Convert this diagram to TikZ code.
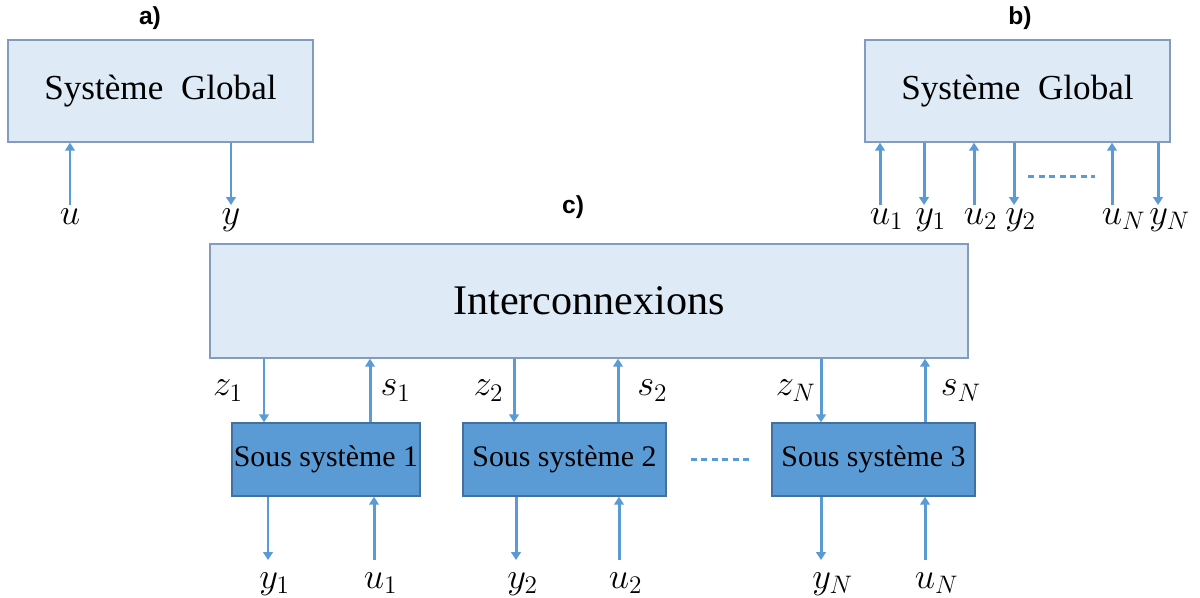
\documentclass[tikz,border=0pt]{standalone}
\usepackage{fontspec}
\setmainfont{Liberation Serif}
\setsansfont{Liberation Sans}
\usetikzlibrary{arrows.meta,positioning}
\definecolor{boxfill}{RGB}{222,235,247}
\definecolor{boxline}{RGB}{130,155,190}
\definecolor{subfill}{RGB}{91,155,213}
\definecolor{subline}{RGB}{65,113,156}
\definecolor{sigblue}{RGB}{91,155,213}
\newcommand{\pvar}[2]{$\phantom{_{#2}}#1_{#2}$}

\begin{document}
\begin{tikzpicture}[
  sysbox/.style={rectangle, draw=boxline, fill=boxfill, line width=0.8pt, minimum width=6.1cm, minimum height=2.04cm, font=\fontsize{20}{24}\selectfont},
  subbox/.style={rectangle, draw=subline, fill=subfill, line width=0.8pt, minimum width=4.06cm, minimum height=1.46cm, inner sep=0pt, font=\fontsize{17}{20}\selectfont},
  sig/.style={line width=1.7pt, draw=sigblue, -{Triangle[width=5.5pt,length=4.5pt]}},
  dots/.style={line width=1.7pt, draw=sigblue, dash pattern=on 3.5pt off 2.5pt},
  lbl/.style={font=\fontsize{20}{20}\selectfont, inner sep=1pt, outer sep=1pt},
  low/.style={outer sep=6pt},
  tag/.style={font=\sffamily\bfseries\fontsize{14}{14}\selectfont}
]
\useasboundingbox (0,0) rectangle (24,-11.94);

% a) and b)
\node[tag] (ta) at (3.0,-0.36) {a)};
\node[tag] (tb) at (20.4,-0.36) {b)};
\node[sysbox] (glob) at (3.21,-1.82) {Système~ Global};
\node[sysbox, right of=glob, node distance=17.14cm] (globN) {Système~ Global};

\node[lbl, anchor=north] (ua) at (1.4,-4.1) {$u$};
\node[lbl, anchor=north] (ya) at (4.62,-4.1) {$y$};
\draw[sig] (ua) -- (ua |- glob.south);
\draw[sig] (glob.south -| ya) -- (ya);

\node[lbl, anchor=north] (bu1) at (17.6,-4.1) {\pvar{u}{1}};
\node[lbl, anchor=north] (by1) at (18.48,-4.1) {\pvar{y}{1}};
\node[lbl, anchor=north] (bu2) at (19.48,-4.1) {\pvar{u}{2}};
\node[lbl, anchor=north] (by2) at (20.28,-4.1) {\pvar{y}{2}};
\node[lbl, anchor=north] (buN) at (22.24,-4.1) {\pvar{u}{N}};
\node[lbl, anchor=north] (byN) at (23.16,-4.1) {\pvar{y}{N}};
\draw[sig] (bu1) -- (bu1 |- globN.south);
\draw[sig] (globN.south -| by1) -- (by1);
\draw[sig] (bu2) -- (bu2 |- globN.south);
\draw[sig] (globN.south -| by2) -- (by2);
\draw[sig] (buN) -- (buN |- globN.south);
\draw[sig] (globN.south -| byN) -- (byN);
\coordinate (dl) at (20.56,-3.52);
\coordinate (dr) at (21.9,-3.52);
\draw[dots] (dl) -- (dr);

% c)
\node[tag] (tc) at (11.46,-4.14) {c)};
\node[sysbox, minimum width=15.16cm, minimum height=2.28cm, font=\fontsize{24}{28}\selectfont] (inter) at (11.78,-6.02) {Interconnexions};
\node[subbox, minimum width=3.76cm] (sub1) at (6.52,-9.19) {Sous système 1};
\node[subbox, right of=sub1, node distance=4.77cm] (sub2) {Sous système 2};
\node[subbox, right of=sub2, node distance=6.18cm] (sub3) {Sous système 3};
\draw[dots, shorten <=0.48cm, shorten >=0.44cm] (sub2) -- (sub3);

\coordinate (pz1) at (5.28,-7.5);
\coordinate (ps1) at (7.4,-7.5);
\coordinate (pz2) at (10.28,-7.5);
\coordinate (ps2) at (12.36,-7.5);
\coordinate (pzN) at (16.42,-7.5);
\coordinate (psN) at (18.5,-7.5);
\draw[sig] (inter.south -| pz1) -- node[lbl, left=10pt] {$z_1$} (sub1.north -| pz1);
\draw[sig] (sub1.north -| ps1) -- node[lbl, right=4pt] {$s_1$} (inter.south -| ps1);
\draw[sig] (inter.south -| pz2) -- node[lbl, left=4pt] {$z_2$} (sub2.north -| pz2);
\draw[sig] (sub2.north -| ps2) -- node[lbl, right=9pt] {$s_2$} (inter.south -| ps2);
\draw[sig] (inter.south -| pzN) -- node[lbl, left=1pt] {$z_N$} (sub3.north -| pzN);
\draw[sig] (sub3.north -| psN) -- node[lbl, right=7pt] {$s_N$} (inter.south -| psN);

\node[lbl, low, anchor=north] (y1) at (5.36,-11.2) {\pvar{y}{1}};
\node[lbl, low, anchor=north] (u1) at (7.48,-11.2) {\pvar{u}{1}};
\node[lbl, low, anchor=north] (y2) at (10.32,-11.2) {\pvar{y}{2}};
\node[lbl, low, anchor=north] (u2) at (12.38,-11.2) {\pvar{u}{2}};
\node[lbl, low, anchor=north] (yN) at (16.42,-11.2) {\pvar{y}{N}};
\node[lbl, low, anchor=north] (uN) at (18.5,-11.2) {\pvar{u}{N}};
\draw[sig] (sub1.south -| y1) -- (y1);
\draw[sig] (u1) -- (u1 |- sub1.south);
\draw[sig] (sub2.south -| y2) -- (y2);
\draw[sig] (u2) -- (u2 |- sub2.south);
\draw[sig] (sub3.south -| yN) -- (yN);
\draw[sig] (uN) -- (uN |- sub3.south);
\end{tikzpicture}
\end{document}
